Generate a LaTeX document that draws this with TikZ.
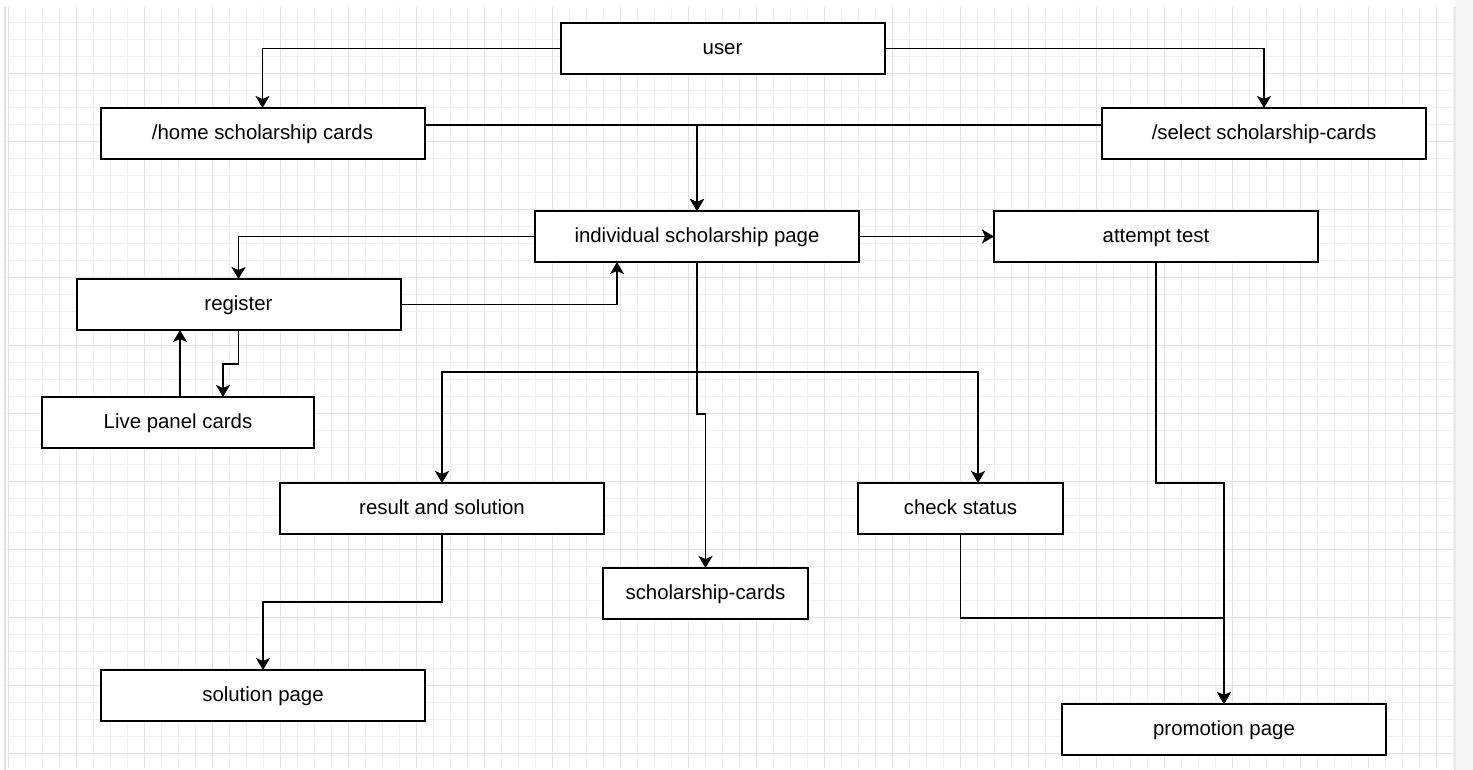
\documentclass[tikz,border=0pt]{standalone}
\usepackage{fontspec}
\setmainfont{Liberation Sans}
\usepackage{tikz}
\usetikzlibrary{arrows.meta}
\usetikzlibrary{positioning}
\tikzset{>={Stealth[length=6pt, width=7pt, inset=1.5pt]}}
\tikzset{page-line/.style={line width=0.9pt}}
\tikzset{page-node/.style={draw, line width=1pt, fill=white, inner sep=0, outer sep=0, minimum width=162pt, minimum height=25.5pt, text height=7.6pt, text depth=1.6pt, font=\fontsize{10.2}{12}\selectfont}}
\tikzset{page-node-small/.style={page-node, minimum width=102.5pt}}
\tikzset{grid-minor/.style={line width=0.4pt, color=black!5}}
\tikzset{grid-major/.style={line width=0.6pt, color=black!10}}

\begin{document}
\begin{tikzpicture}[x=0.5pt, y=-0.5pt]
            \useasboundingbox (0,0) rectangle (1473,770);

            % canvas grid
            \fill[white] (0,0) rectangle (1473,770);
            \foreach \i in {0,...,85} {\draw[grid-minor] ({8.3+17*\i},7) -- ({8.3+17*\i},768);}
            \foreach \j in {1,...,44} {\draw[grid-minor] (7,{5.3+17*\j}) -- (1455,{5.3+17*\j});}
            \foreach \i in {0,...,21} {\draw[grid-major] ({8.3+68*\i},7) -- ({8.3+68*\i},768);}
            \foreach \j in {1,...,11} {\draw[grid-major] (7,{5.3+68*\j}) -- (1455,{5.3+68*\j});}
            \fill[black!3] (1455,0) rectangle (1473,770);
            \draw[black!9, line width=1pt] (1455,7) -- (1455,770);
            \draw[black!12, line width=1.2pt] (5,7) -- (5,770);

            \node[page-node] (user) at (722.5,48.5) {user};

            \node[page-node, below=17pt of user.south west, xshift=-149pt] (home) {/home scholarship cards};
            \node[page-node, below=17pt of user.south east, xshift=189.75pt] (select) {/select scholarship-cards};

            \node[page-node, below=68.5pt of user.south, xshift=-12.75pt] (indiv) {individual scholarship page};
            \node[page-node, right=67.5pt of indiv] (attempt) {attempt test};

            \node[page-node, below=8.5pt of indiv.south west, xshift=-148.25pt] (register) {register};
            \node[page-node, minimum width=136pt, below=33.5pt of register.south, xshift=-30.25pt] (live) {Live panel cards};

            \node[page-node, below=110.5pt of indiv.south, xshift=-127.5pt] (result) {result and solution};
            \node[page-node-small, below=110.5pt of indiv.south, xshift=131.75pt] (check) {check status};
            \node[page-node-small, below=153pt of indiv.south, xshift=4.25pt] (schol) {scholarship-cards};

            \node[page-node, below=68pt of result.south, xshift=-89.5pt] (solution) {solution page};
            \node[page-node, below=85pt of check.south, xshift=131.75pt] (promo) {promotion page};

            \draw[->, page-line] (user.west) -| (home.north);
            \draw[->, page-line] (user.east) -| (select.north);

            \draw[->, page-line] ([yshift=4.25pt]home.east) -| (indiv.north);
            \draw[->, page-line] ([yshift=4.25pt]select.west) -| (indiv.north);

            \draw[->, page-line] (indiv) -- (attempt);
            \draw[->, page-line] (indiv.west) -| (register.north);
            \draw[->, page-line] (register.east) -| ([xshift=-40pt]indiv.south);

            \draw[->, page-line] (register.south) -- ++(0,-17pt) -| ([xshift=22.5pt]live.north);
            \draw[->, page-line] ([xshift=1pt]live.north) -- ++(0,16pt) -- ([xshift=1pt]live.north |- register.south);

            \draw[->, page-line] (indiv.south) -- ++(0,-55pt) -| (result.north);
            \draw[->, page-line] (indiv.south) -- ++(0,-55pt) -| ([xshift=8.75pt]check.north);
            \draw[->, page-line] (indiv.south) -- ++(0,-76pt) -| (schol.north);

            \draw[->, page-line] (result.south) -- ++(0,-34pt) -| (solution.north);

            \draw[->, page-line] (attempt.south) -- ++(0,-110.5pt) -| (promo.north);
            \draw[->, page-line] (check.south) -- ++(0,-42pt) -| (promo.north);

        \end{tikzpicture}
\end{document}
